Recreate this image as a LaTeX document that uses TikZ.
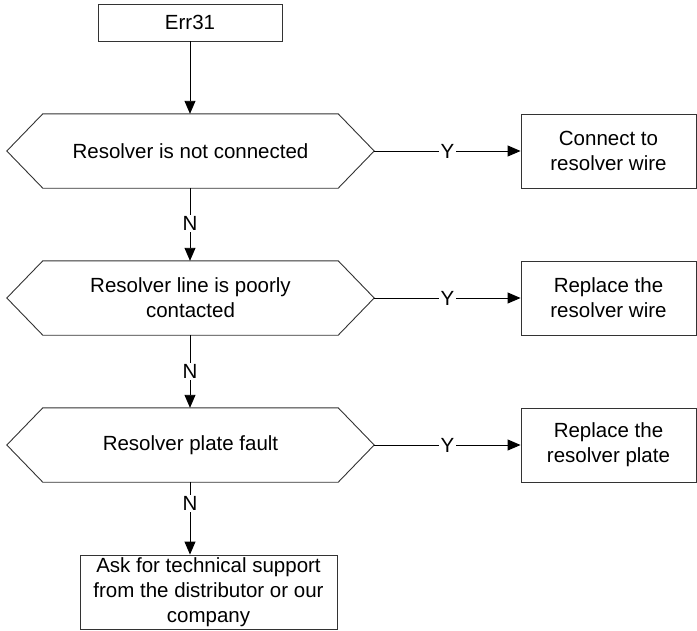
\documentclass[tikz,border=0pt]{standalone}
\usepackage{fontspec}
\setmainfont{Liberation Sans}
\usetikzlibrary{arrows.meta}
\begin{document}
\begin{tikzpicture}[x=1pt,y=1pt,
  font=\fontsize{20.5}{25}\selectfont,
  box/.style={draw=black!80,line width=0.9pt,fill=white,align=center,inner sep=0pt},
  dec/.style={inner sep=0pt,align=center,minimum width=367pt,minimum height=74pt},
  hexline/.style={draw=black!80,line width=0.9pt},
  arr/.style={draw=black,line width=0.9pt,-{Triangle[length=13pt,width=11pt]}},
  lab/.style={fill=white,inner sep=1.5pt}]
\useasboundingbox (0,0) rectangle (697,-630);
% start
\node[box,minimum width=184pt,minimum height=37pt] (start) at (190,-22.5) {Err31};
% decisions
\node[dec] (d1) at (190.5,-151) {Resolver is not connected};
\node[dec] (d2) at (190.5,-298) {Resolver line is poorly\\contacted};
\node[dec] (d3) at (190.5,-445) {Resolver plate fault};
\foreach \d in {d1,d2,d3}{
  \draw[hexline] (\d.west) -- ([xshift=36pt]\d.north west) -- ([xshift=-36pt]\d.north east)
    -- (\d.east) -- ([xshift=-36pt]\d.south east) -- ([xshift=36pt]\d.south west) -- cycle;
}
% actions
\node[box,minimum width=175pt,minimum height=74pt] (a1) at (608.5,-151) {Connect to\\resolver wire};
\node[box,minimum width=175pt,minimum height=74pt] (a2) at (608.5,-298) {Replace the\\resolver wire};
\node[box,minimum width=175pt,minimum height=74pt] (a3) at (608.5,-445) {Replace the\\resolver plate};
\node[box,minimum width=257pt,minimum height=74pt] (end) at (208.5,-592) {Ask for technical support\\from the distributor or our\\company};
% connectors
\draw[arr] (start.south) -- (start.south |- d1.north);
\draw[arr] (d1.south -| start.south) -- node[lab,pos=0.48] {N} (start.south |- d2.north);
\draw[arr] (d2.south -| start.south) -- node[lab,pos=0.5] {N} (start.south |- d3.north);
\draw[arr] (d3.south -| start.south) -- node[lab,pos=0.29] {N} (start.south |- end.north);
\draw[arr] (d1.east) -- node[lab,pos=0.5] {Y} (a1.west);
\draw[arr] (d2.east) -- node[lab,pos=0.5] {Y} (a2.west);
\draw[arr] (d3.east) -- node[lab,pos=0.5] {Y} (a3.west);
\end{tikzpicture}
\end{document}
